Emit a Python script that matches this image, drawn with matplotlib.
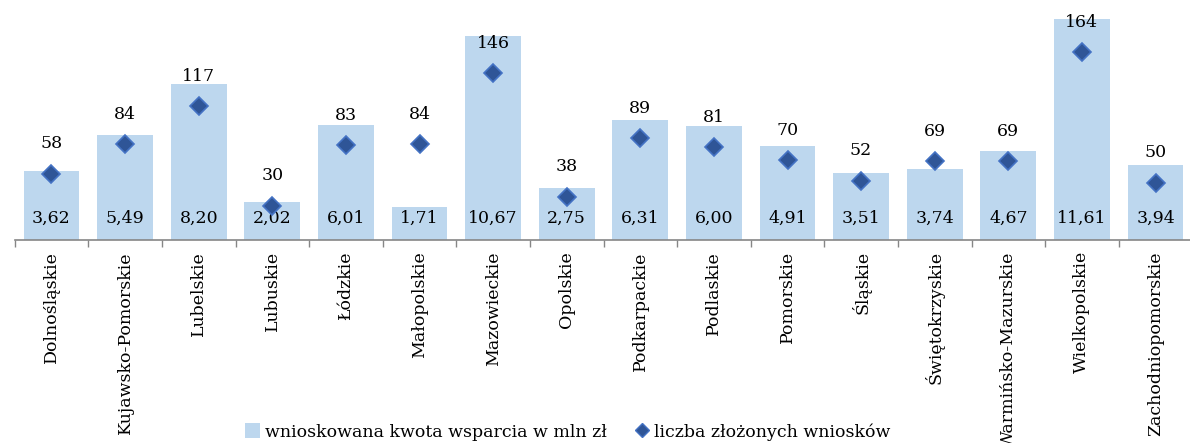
import matplotlib.pyplot as plt
import numpy as np
from matplotlib.lines import Line2D
from matplotlib.patches import Patch


# values
regions = [
    "Dolnośląskie", "Kujawsko-Pomorskie", "Lubelskie", "Lubuskie", "Łódzkie",
    "Małopolskie", "Mazowieckie", "Opolskie", "Podkarpackie", "Podlaskie",
    "Pomorskie", "Śląskie", "Świętokrzyskie", "Warmińsko-Mazurskie",
    "Wielkopolskie", "Zachodniopomorskie",
]
kwota_mln = [3.62, 5.49, 8.20, 2.02, 6.01, 1.71, 10.67, 2.75,
             6.31, 6.00, 4.91, 3.51, 3.74, 4.67, 11.61, 3.94]
liczba_wnioskow = [58, 84, 117, 30, 83, 84, 146, 38,
                   89, 81, 70, 52, 69, 69, 164, 50]

BAR_COLOR = "#BDD7EE"
DIAMOND_FACE = "#2F5597"
DIAMOND_EDGE = "#4472C4"
AXIS_GRAY = "#868686"
FS = 12.5

plt.rcParams["font.family"] = ["DejaVu Serif"]


def fmt_pl(v):
    return f"{v:.2f}".replace(".", ",")


def main():
    fig = plt.figure(figsize=(11.9, 4.43), dpi=100)
    ax = fig.add_axes([0.01235, 0.458, 0.9896, 0.517])
    x = np.arange(len(regions))

    ax.bar(x, kwota_mln, width=0.76, color=BAR_COLOR, zorder=2)
    ax.set_xlim(-0.5, len(regions) - 0.5)
    ax.set_ylim(0, 12)

    for xi, v in zip(x, kwota_mln):
        ax.annotate(fmt_pl(v), xy=(xi, 0), xytext=(0, 16),
                    textcoords="offset points", ha="center", va="center",
                    fontsize=FS, color="black")

    # category boundaries as small ticks below the axis line
    ax.set_xticks(x)
    ax.set_xticklabels(regions, rotation=90, fontsize=FS, va="top", ha="center")
    ax.tick_params(axis="x", which="major", length=0, pad=8)
    ax.set_xticks(np.arange(-0.5, len(regions)), minor=True)
    ax.tick_params(axis="x", which="minor", length=5, width=1,
                   color=AXIS_GRAY, direction="out")
    ax.set_yticks([])
    for side in ["left", "right", "top"]:
        ax.spines[side].set_visible(False)
    ax.spines["bottom"].set_color(AXIS_GRAY)
    ax.spines["bottom"].set_linewidth(1.2)

    ax2 = ax.twinx()
    ax2.set_ylim(0, 200)
    ax2.plot(x, liczba_wnioskow, linestyle="none", marker="D", markersize=9.5,
             markerfacecolor=DIAMOND_FACE, markeredgecolor=DIAMOND_EDGE,
             markeredgewidth=1.2, zorder=3)
    for xi, n in zip(x, liczba_wnioskow):
        ax2.annotate(str(n), xy=(xi, n), xytext=(0, 21.5),
                     textcoords="offset points", ha="center", va="center",
                     fontsize=FS, color="black")
    ax2.set_yticks([])
    for side in ["left", "right", "top", "bottom"]:
        ax2.spines[side].set_visible(False)

    handles = [
        Patch(facecolor=BAR_COLOR, edgecolor="none"),
        Line2D([], [], linestyle="none", marker="D", markersize=7,
               markerfacecolor=DIAMOND_FACE, markeredgecolor=DIAMOND_EDGE),
    ]
    labels = ["wnioskowana kwota wsparcia w mln zł", "liczba złożonych wniosków"]
    fig.legend(handles, labels, loc="center", bbox_to_anchor=(0.477, 0.025),
               ncol=2, frameon=False, fontsize=FS, handlelength=0.9,
               handletextpad=0.25, columnspacing=1.6, handleheight=0.9)

    fig.savefig("out.png", dpi=100)


if __name__ == "__main__":
    main()
